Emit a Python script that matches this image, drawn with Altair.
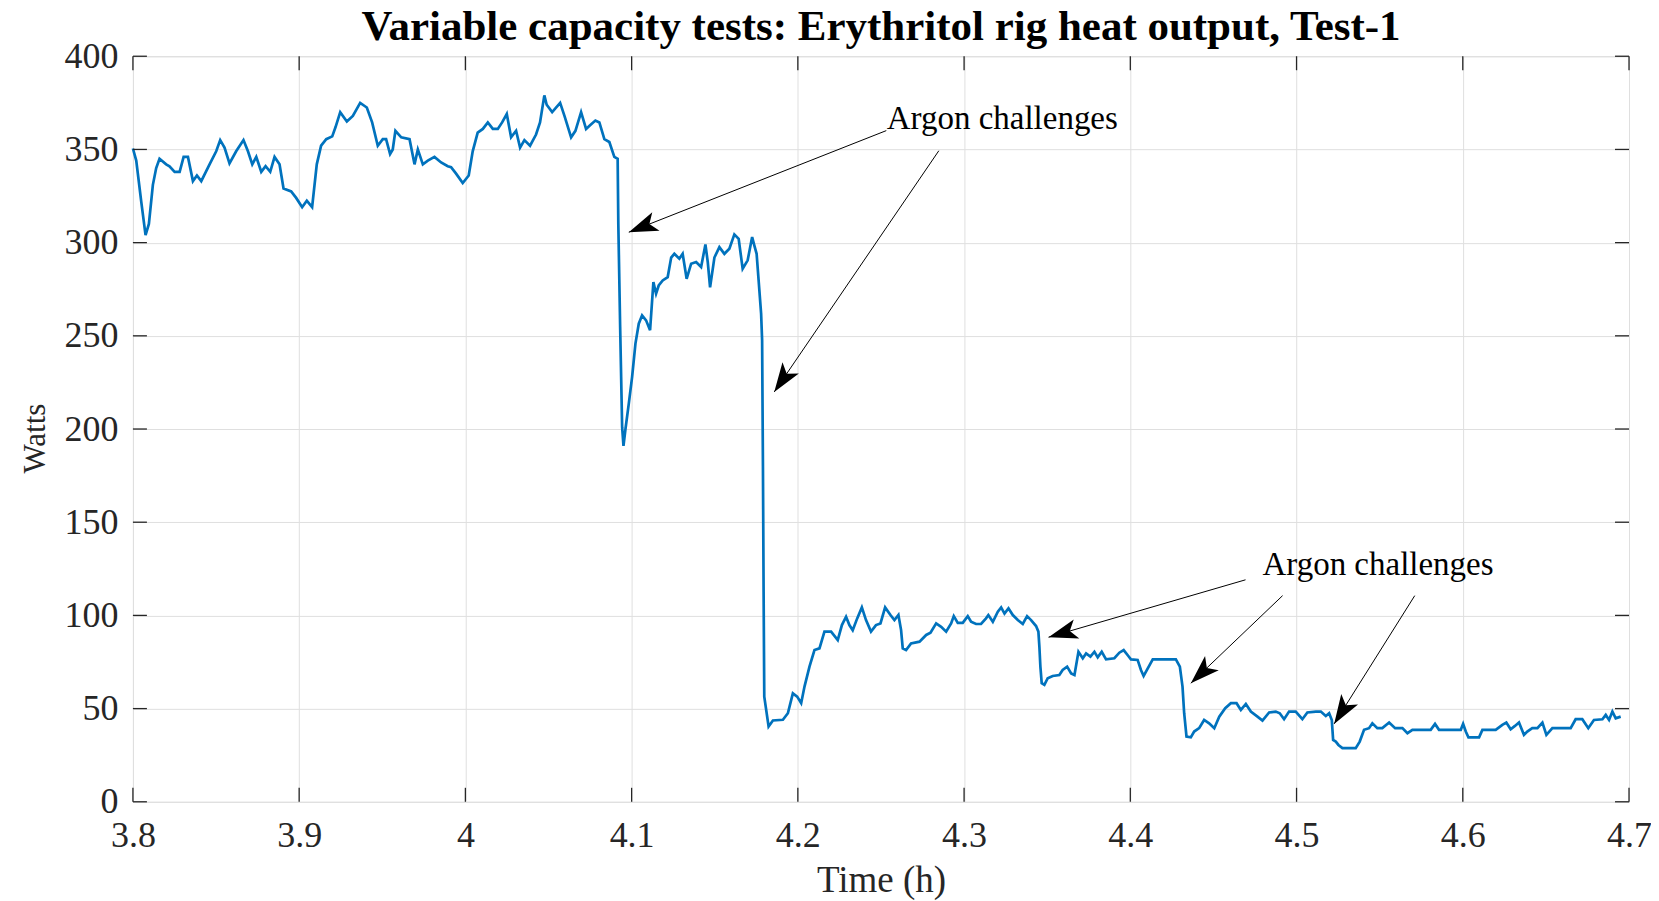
import math
import altair as alt
import pandas as pd

# ---- data ----
TIME_H = [
    3.8000, 3.8020, 3.8050, 3.8076, 3.8096, 3.8120, 3.8140, 3.8160, 3.8200, 3.8220,
    3.8251, 3.8281, 3.8305, 3.8331, 3.8361, 3.8385, 3.8411, 3.8461, 3.8501, 3.8525,
    3.8551, 3.8581, 3.8621, 3.8665, 3.8692, 3.8718, 3.8742, 3.8772, 3.8798, 3.8826,
    3.8852, 3.8882, 3.8906, 3.8952, 3.8982, 3.9018, 3.9046, 3.9078, 3.9106, 3.9132,
    3.9163, 3.9199, 3.9219, 3.9247, 3.9287, 3.9323, 3.9367, 3.9407, 3.9439, 3.9473,
    3.9503, 3.9523, 3.9547, 3.9563, 3.9579, 3.9614, 3.9664, 3.9694, 3.9714, 3.9744,
    3.9774, 3.9814, 3.9854, 3.9894, 3.9914, 3.9944, 3.9984, 4.0020, 4.0044, 4.0074,
    4.0105, 4.0135, 4.0165, 4.0195, 4.0221, 4.0249, 4.0275, 4.0305, 4.0329, 4.0355,
    4.0389, 4.0425, 4.0449, 4.0475, 4.0489, 4.0522, 4.0570, 4.0596, 4.0636, 4.0662,
    4.0696, 4.0726, 4.0750, 4.0782, 4.0806, 4.0836, 4.0866, 4.0896, 4.0916,
    4.0920, 4.0931, 4.0943, 4.0951, 4.0963, 4.0983, 4.1003, 4.1023, 4.1043, 4.1063,
    4.1087, 4.1111, 4.1131, 4.1147, 4.1163, 4.1187, 4.1217, 4.1238, 4.1257, 4.1287,
    4.1307, 4.1331, 4.1358, 4.1388, 4.1418, 4.1444, 4.1458, 4.1472, 4.1498, 4.1528,
    4.1558, 4.1588, 4.1618, 4.1644, 4.1668, 4.1698, 4.1725, 4.1738, 4.1752, 4.1764,
    4.1779, 4.1785, 4.1790, 4.1794, 4.1798,
    4.1824, 4.1850, 4.1910, 4.1940, 4.1970, 4.1996, 4.2020, 4.2040, 4.2070, 4.2100,
    4.2130, 4.2160, 4.2200, 4.2240, 4.2265, 4.2290, 4.2310, 4.2330, 4.2357, 4.2385,
    4.2410, 4.2440, 4.2470, 4.2497, 4.2525, 4.2557, 4.2581, 4.2605, 4.2621, 4.2631,
    4.2651, 4.2681, 4.2732, 4.2772, 4.2798, 4.2832, 4.2862, 4.2892, 4.2922, 4.2938,
    4.2962, 4.2992, 4.3022, 4.3042, 4.3072, 4.3102, 4.3132, 4.3146, 4.3173, 4.3203,
    4.3223, 4.3243, 4.3267, 4.3293, 4.3323, 4.3353, 4.3379, 4.3403, 4.3433, 4.3447,
    4.3453, 4.3459, 4.3467, 4.3483, 4.3503, 4.3533, 4.3573, 4.3593, 4.3620, 4.3644,
    4.3664, 4.3688, 4.3714, 4.3734, 4.3760, 4.3784, 4.3804, 4.3828, 4.3854, 4.3904,
    4.3934, 4.3960, 4.3988, 4.4004, 4.4044, 4.4064, 4.4080, 4.4105, 4.4135, 4.4274,
    4.4298, 4.4314, 4.4324, 4.4338, 4.4364, 4.4384, 4.4414, 4.4444, 4.4474, 4.4505,
    4.4535, 4.4571, 4.4605, 4.4639, 4.4665, 4.4695, 4.4725, 4.4765, 4.4795, 4.4835,
    4.4875, 4.4899, 4.4925, 4.4955, 4.4995, 4.5035, 4.5065, 4.5116, 4.5146, 4.5176,
    4.5196, 4.5212, 4.5220, 4.5236, 4.5252, 4.5276, 4.5356, 4.5380, 4.5406, 4.5436,
    4.5456, 4.5486, 4.5516, 4.5557, 4.5593, 4.5637, 4.5667, 4.5697, 4.5757, 4.5807,
    4.5833, 4.5857, 4.5917, 4.5988, 4.6002, 4.6018, 4.6034, 4.6098, 4.6118, 4.6198,
    4.6238, 4.6262, 4.6288, 4.6314, 4.6338, 4.6368, 4.6388, 4.6418, 4.6449, 4.6479,
    4.6503, 4.6539, 4.6599, 4.6649, 4.6679, 4.6719, 4.6755, 4.6789, 4.6840, 4.6860,
    4.6880, 4.6900, 4.6920, 4.6950,
]
WATTS = [
    350.5, 344, 322, 304, 310, 331, 340, 345, 342, 341,
    338, 338, 346, 346, 333, 336, 333, 342, 349, 355,
    351, 342.5, 349, 355, 349, 342, 346, 338, 341, 338,
    346, 342, 329, 327.5, 324, 319, 322.5, 319, 342, 352,
    355.5, 357, 362, 370, 365, 368, 375, 372.5, 364.5, 352,
    355.5, 355.5, 347.5, 350, 360, 356.5, 355.5, 342, 350, 342,
    344, 346, 343, 341, 340.5, 337, 332, 336, 349, 359,
    361, 364.5, 361, 361, 364.5, 369, 356.5, 360, 351, 355,
    352, 358, 364.5, 379, 374, 370, 375, 368, 356.5, 360,
    370, 361, 363, 365.5, 364.5, 355.5, 354, 346, 345,
    310, 254.7, 201, 191, 200, 213.6, 228, 245.8, 256.5, 261,
    258.3, 253, 278.8, 272.6, 277, 279.7, 281.5, 292, 294, 291.4,
    294, 280.6, 288.7, 289.6, 286.9, 299, 289.6, 276, 292, 297.6,
    294, 296.7, 304.4, 302, 286, 290.5, 303, 298.5, 294, 279.7,
    261.9, 247.6, 180, 112.7, 56.4,
    40.4, 43.6, 44, 47.5, 58.2, 56.4, 52.9, 61.8, 72.5, 81.4,
    82.3, 91.3, 91.3, 86.8, 94.8, 99.3, 94.8, 92, 98.4, 104.3,
    97.5, 91.3, 94.8, 95.7, 104.3, 100.2, 97.5, 100.2, 92.1, 82.3,
    81.4, 85, 85.9, 89.5, 90.7, 95.7, 93.9, 91.3, 95.7, 99.6,
    96, 96, 99.6, 96.6, 95.4, 95.4, 98.4, 100.2, 96.6, 102,
    104.3, 101, 103.8, 100.2, 97.5, 95.4, 99.6, 97.5, 94.3, 91.3,
    83.2, 72.5, 63.6, 62.7, 66.3, 67.5, 68, 70.7, 72.5, 68.9,
    68, 80.5, 77, 79.6, 77.9, 80.5, 77.5, 80.5, 76.4, 77,
    80, 81.4, 78.2, 76.4, 76.1, 70.7, 67.5, 71.6, 76.4, 76.4,
    72.5, 61.8, 47.5, 35, 34.6, 37.7, 39.5, 43.9, 42.1, 39.5,
    45.7, 50.2, 52.9, 52.9, 49.3, 52.5, 48.4, 45.7, 43.6, 47.9,
    48.4, 47.5, 44.3, 48.4, 48.4, 44.3, 47.9, 48.4, 48.4, 46,
    47.5, 43.9, 33.2, 32.3, 30.5, 28.8, 28.8, 32.3, 38.6, 39.5,
    42.1, 39.5, 39.5, 42.5, 39.5, 39.5, 36.8, 38.6, 38.6, 38.6,
    41.8, 38.6, 38.6, 38.6, 41.8, 37.7, 34.6, 34.6, 38.6, 38.6,
    41.3, 42.5, 38.9, 40.7, 42.5, 35.9, 37.7, 39.5, 39.5, 42.5,
    35.9, 39.5, 39.5, 39.5, 44.3, 44.3, 39.5, 43.9, 44.3, 46.6,
    43.9, 48.4, 44.8, 45.7,
]

X_TICKS = [3.8, 3.9, 4.0, 4.1, 4.2, 4.3, 4.4, 4.5, 4.6, 4.7]
Y_TICKS = [0, 50, 100, 150, 200, 250, 300, 350, 400]

NOTE_TEXT = ["Argon challenges", "Argon challenges"]
NOTE_T = [4.323, 4.549]
NOTE_W = [361.2, 121.9]

ARROW_T0 = [4.2532, 4.2848, 4.4693, 4.4916, 4.5711]
ARROW_W0 = [360.1, 349.3, 119.1, 110.6, 110.6]
ARROW_T1 = [4.0983, 4.1858, 4.3508, 4.4364, 4.5226]
ARROW_W1 = [305.6, 219.9, 88.3, 63.6, 41.8]

TITLE = "Variable capacity tests: Erythritol rig heat output, Test-1"

# ---- layout / style ----
PW, PH = 1497, 746
X0, X1, Y0, Y1 = 3.8, 4.7, 0, 400
FONT = "Liberation Serif"
INK = "#262626"
TICK = 14

xs = alt.Scale(domain=[X0, X1], nice=False, zero=False)
ys = alt.Scale(domain=[Y0, Y1], nice=False, zero=False)

df = pd.DataFrame({"t": TIME_H, "w": WATTS})

x_axis = alt.Axis(values=X_TICKS, format="~g", title="Time (h)", grid=True,
                  gridColor="#dfdfdf", gridWidth=1, ticks=False, tickSize=0,
                  domain=False, labelFont=FONT, labelFontSize=36, labelColor=INK,
                  labelPadding=17, labelFlush=False, labelOverlap=False,
                  titleFont=FONT, titleFontSize=37, titleFontWeight="normal",
                  titleColor=INK, titlePadding=9)
y_axis = alt.Axis(values=Y_TICKS, title="Watts", grid=True,
                  gridColor="#dfdfdf", gridWidth=1, ticks=False, tickSize=0,
                  domain=False, labelFont=FONT, labelFontSize=36, labelColor=INK,
                  labelPadding=15, labelFlush=False, labelOverlap=False,
                  titleFont=FONT, titleFontSize=31, titleFontWeight="normal",
                  titleColor=INK, titlePadding=12, titleY=382)


def X(field):
    return alt.X(field, type="quantitative", scale=xs, axis=x_axis)


def Y(field):
    return alt.Y(field, type="quantitative", scale=ys, axis=y_axis)


line = alt.Chart(df).mark_line(color="#0072BD", strokeWidth=2.7).encode(
    x=X("t"), y=Y("w"))

xt = pd.DataFrame({"t": X_TICKS})
yt = pd.DataFrame({"w": Y_TICKS})
tick_kw = dict(color=INK, strokeWidth=1.3)
ticks_bottom = alt.Chart(xt).mark_rule(**tick_kw).encode(
    x=X("t"), y=alt.value(PH), y2=alt.value(PH - TICK))
ticks_top = alt.Chart(xt).mark_rule(**tick_kw).encode(
    x=X("t"), y=alt.value(0), y2=alt.value(TICK))
ticks_left = alt.Chart(yt).mark_rule(**tick_kw).encode(
    y=Y("w"), x=alt.value(0), x2=alt.value(TICK))
ticks_right = alt.Chart(yt).mark_rule(**tick_kw).encode(
    y=Y("w"), x=alt.value(PW), x2=alt.value(PW - TICK))


def px(t):
    return (t - X0) / (X1 - X0) * PW


def py(w):
    return (Y1 - w) / (Y1 - Y0) * PH


angles = []
for t0, w0, t1, w1 in zip(ARROW_T0, ARROW_W0, ARROW_T1, ARROW_W1):
    dx = px(t1) - px(t0)
    dy = py(w1) - py(w0)
    angles.append(math.degrees(math.atan2(dx, -dy)) % 360)

arrows = pd.DataFrame({"t0": ARROW_T0, "w0": ARROW_W0, "t1": ARROW_T1,
                       "w1": ARROW_W1, "ang": angles})

shafts = alt.Chart(arrows).mark_rule(color="black", strokeWidth=1).encode(
    x=X("t0"), y=Y("w0"), x2="t1:Q", y2="w1:Q")

HEAD = "M0,0 L-0.34,1 L0,0.76 L0.34,1 Z"
heads = alt.Chart(arrows).mark_point(shape=HEAD, filled=True, color="black",
                                     opacity=1, size=3400, strokeWidth=0).encode(
    x=X("t1"), y=Y("w1"), angle=alt.Angle("ang:Q", scale=None))

notes = alt.Chart(pd.DataFrame({"t": NOTE_T, "w": NOTE_W, "s": NOTE_TEXT})).mark_text(
    font=FONT, fontSize=33, align="center", baseline="alphabetic", color="black").encode(
    x=X("t"), y=Y("w"), text="s:N")

chart = alt.layer(line, ticks_bottom, ticks_top, ticks_left, ticks_right,
                  shafts, heads, notes).properties(
    width=PW, height=PH,
    title=alt.TitleParams(text=TITLE, font=FONT, fontSize=43, fontWeight="bold",
                          color="black", anchor="middle", frame="group", offset=-11),
    autosize=alt.AutoSizeParams(type="none"),
    padding={"left": 125, "top": 48, "right": 22, "bottom": 100},
).configure_view(stroke=INK, strokeWidth=1.5).configure(background="white")

chart.save("out.html", embed_options={"renderer": "svg", "actions": False})
